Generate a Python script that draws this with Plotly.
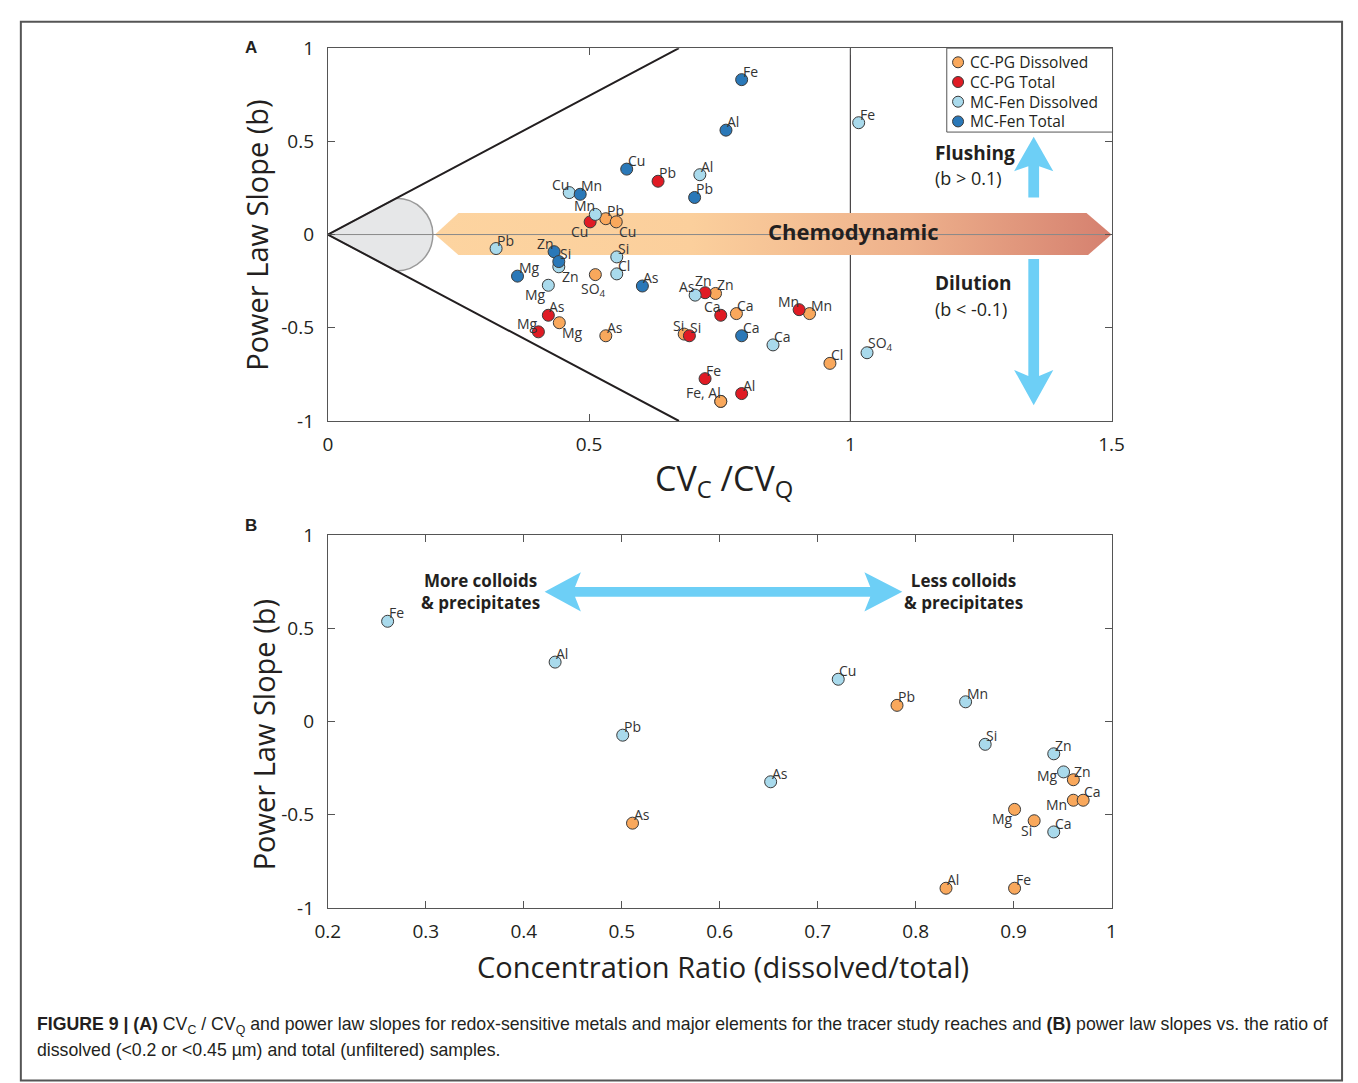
import plotly.graph_objects as go

# ---------------- DATA ----------------
# Panel A: CVc/CVq (x) vs power-law slope b (y)
mcfen_tot_el = ["Fe", "Al", "Cu", "Pb", "Mn", "Zn", "Si", "Mg", "As", "Ca"]
mcfen_tot_cv = [0.792, 0.762, 0.572, 0.702, 0.483, 0.433, 0.442, 0.363, 0.602, 0.792]
mcfen_tot_b = [0.831, 0.560, 0.351, 0.199, 0.216, -0.092, -0.145, -0.223, -0.276, -0.543]

mcfen_dis_el = ["Fe", "Al", "Cu", "Mn", "Pb", "Si", "Zn", "Cl", "Mg", "As", "Ca", "SO<sub>4</sub>"]
mcfen_dis_cv = [1.016, 0.712, 0.462, 0.512, 0.322, 0.553, 0.442, 0.553, 0.422, 0.703, 0.852, 1.032]
mcfen_dis_b = [0.600, 0.321, 0.225, 0.108, -0.075, -0.120, -0.173, -0.211, -0.272, -0.325, -0.592, -0.634]

ccpg_tot_el = ["Pb", "Cu", "Zn", "Mn", "Ca", "As", "Mg", "Si", "Fe", "Al"]
ccpg_tot_cv = [0.632, 0.502, 0.722, 0.902, 0.752, 0.422, 0.403, 0.692, 0.722, 0.792]
ccpg_tot_b = [0.286, 0.068, -0.312, -0.403, -0.433, -0.433, -0.522, -0.543, -0.773, -0.853]

ccpg_dis_el = ["Pb", "Cu", "SO<sub>4</sub>", "Zn", "Ca", "Mn", "Mg", "Si", "As", "Cl", "Fe, Al", ""]
ccpg_dis_cv = [0.532, 0.552, 0.512, 0.742, 0.782, 0.922, 0.443, 0.682, 0.532, 0.961, 0.752, 0.752]
ccpg_dis_b = [0.085, 0.068, -0.215, -0.316, -0.424, -0.424, -0.473, -0.534, -0.543, -0.691, -0.895, -0.895]

# Panel B: concentration ratio (dissolved/total) vs b
b_mcfen_el = ["Fe", "Al", "Pb", "As", "Cu", "Mn", "Si", "Zn", "Mg", "Ca"]
b_mcfen_ratio = [0.261, 0.432, 0.501, 0.652, 0.721, 0.851, 0.871, 0.941, 0.951, 0.941]
b_mcfen_b = [0.538, 0.319, -0.073, -0.323, 0.227, 0.106, -0.122, -0.173, -0.270, -0.592]

b_ccpg_el = ["As", "Pb", "Al", "Mg", "Fe", "Si", "Zn", "Mn", "Ca", "Cu"]
b_ccpg_ratio = [0.511, 0.781, 0.831, 0.901, 0.901, 0.921, 0.961, 0.961, 0.971, 1.001]
b_ccpg_b = [-0.545, 0.087, -0.894, -0.471, -0.894, -0.532, -0.312, -0.422, -0.422, 0.066]

series_names = ["CC-PG Dissolved", "CC-PG Total", "MC-Fen Dissolved", "MC-Fen Total"]

ticks_a_x = [0, 0.5, 1, 1.5]
ticks_b_x = [0.2, 0.3, 0.4, 0.5, 0.6, 0.7, 0.8, 0.9, 1]
ticks_y = [-1, -0.5, 0, 0.5, 1]

# ---------------- STYLE ----------------
pos_mcfen_tot = ["tr", "tr", "tr", "tr", "tr", "tl", "tr", "tr", "tr", "tr"]
pos_mcfen_dis = ["tr", "tr", "tl", "tl", "tr", "tr", "br", "tr", "bl", "tl", "tr", "tr"]
pos_ccpg_tot = ["tr", "bl", "tc", "tl", "tl", "tr", "tl", "tr", "tr", "tr"]
pos_ccpg_dis = ["tr", "br", "bc", "tr", "tr", "tr", "br", "tl", "tr", "tr", "tl", "tl"]
pos_b_mcfen = ["tr"] * 8 + ["ml", "tr"]
pos_b_ccpg = ["tr", "tr", "tr", "bl", "tr", "bl", "tr", "ml", "tr", "tl"]

C_ORANGE = "#f9a85c"
C_RED = "#e01b24"
C_LBLUE = "#a9daec"
C_DBLUE = "#2a78b8"
series_colors = [C_ORANGE, C_RED, C_LBLUE, C_DBLUE]
TXT = "#231f20"
FONT = "Open Sans"
W, H = 1358, 1083

fig = go.Figure()

# ---- Panel A decorations ----
fig.add_trace(go.Scatter(
    x=[0.205, 0.25, 1.452, 1.5, 1.455, 0.25, 0.205],
    y=[0, 0.115, 0.115, 0, -0.11, -0.11, 0],
    mode="lines", line=dict(width=0), fill="toself",
    fillgradient=dict(type="horizontal",
                      colorscale=[[0, "#fdd4a0"], [0.38, "#fbcf9c"], [0.7, "#eeb18c"], [1, "#d5806f"]]),
    hoverinfo="skip", showlegend=False, xaxis="x", yaxis="y"))
fig.add_trace(go.Scatter(x=[0, 1.5], y=[0, 0], mode="lines", line=dict(color="#8a8a8a", width=1),
                         hoverinfo="skip", showlegend=False, xaxis="x", yaxis="y"))
fig.add_trace(go.Scatter(x=[0.672, 0, 0.672], y=[1, 0, -1], mode="lines",
                         line=dict(color=TXT, width=2), hoverinfo="skip", showlegend=False,
                         xaxis="x", yaxis="y"))

ann = []

LABEL_STYLE = {
    "tr": dict(xanchor="left", yanchor="bottom", xshift=0, yshift=-2),
    "tl": dict(xanchor="right", yanchor="bottom", xshift=1, yshift=-2),
    "tc": dict(xanchor="center", yanchor="bottom", xshift=-2, yshift=2),
    "br": dict(xanchor="left", yanchor="top", xshift=2, yshift=1),
    "bl": dict(xanchor="right", yanchor="top", xshift=-1, yshift=1),
    "bc": dict(xanchor="center", yanchor="top", xshift=-2, yshift=-3),
    "ml": dict(xanchor="right", yanchor="middle", xshift=-5, yshift=-4),
}


def pts(x, y, el, pos, color, name, xa, ya):
    fig.add_trace(go.Scatter(
        x=x, y=y, mode="markers", name=name,
        marker=dict(size=12, color=color, line=dict(color="#3a3a3a", width=1)),
        cliponaxis=False, showlegend=False, xaxis=xa, yaxis=ya, hoverinfo="skip"))
    for xi, yi, t, p in zip(x, y, el, pos):
        if not t:
            continue
        ann.append(dict(text=t, x=xi, y=yi, xref=xa, yref=ya, showarrow=False, borderpad=0,
                        font=dict(family=FONT, size=14, color="#333333"), **LABEL_STYLE[p]))


pts(ccpg_dis_cv, ccpg_dis_b, ccpg_dis_el, pos_ccpg_dis, C_ORANGE, series_names[0], "x", "y")
pts(ccpg_tot_cv, ccpg_tot_b, ccpg_tot_el, pos_ccpg_tot, C_RED, series_names[1], "x", "y")
pts(mcfen_dis_cv, mcfen_dis_b, mcfen_dis_el, pos_mcfen_dis, C_LBLUE, series_names[2], "x", "y")
pts(mcfen_tot_cv, mcfen_tot_b, mcfen_tot_el, pos_mcfen_tot, C_DBLUE, series_names[3], "x", "y")

pts(b_mcfen_ratio, b_mcfen_b, b_mcfen_el, pos_b_mcfen, C_LBLUE, series_names[2], "x2", "y2")
pts(b_ccpg_ratio, b_ccpg_b, b_ccpg_el, pos_b_ccpg, C_ORANGE, series_names[0], "x2", "y2")


def px(xp):
    return xp / W


def py(yp):
    return 1 - yp / H


# ---- shapes ----
ARROW = "#6dcff6"
tx = 0.672
shapes = [
    dict(type="path", xref="x", yref="y", layer="below",
         path=f"M 0,0 L 0.131,{0.131 / tx:.4f} C 0.1697,0.195 0.201,0.1077 0.201,0 "
              f"C 0.201,-0.1077 0.1697,-0.195 0.131,{-0.131 / tx:.4f} Z",
         fillcolor="#e6e7e8", line=dict(color="#9a9a9a", width=1.5)),
    dict(type="line", xref="x", yref="y", x0=1, x1=1, y0=-1, y1=1, layer="below",
         line=dict(color=TXT, width=1)),
    dict(type="path", xref="x", yref="y", fillcolor=ARROW, line=dict(width=0),
         path="M 1.3407,0.199 L 1.3407,0.366 L 1.3135,0.340 L 1.351,0.524 L 1.3885,0.340 "
              "L 1.3613,0.366 L 1.3613,0.199 Z"),
    dict(type="path", xref="x", yref="y", fillcolor=ARROW, line=dict(width=0),
         path="M 1.3407,-0.131 L 1.3407,-0.759 L 1.3135,-0.726 L 1.351,-0.916 L 1.3885,-0.726 "
              "L 1.3613,-0.759 L 1.3613,-0.131 Z"),
    dict(type="path", xref="x2", yref="y2", fillcolor=ARROW, line=dict(width=0),
         path="M 0.4213,0.696 L 0.4583,0.801 L 0.4523,0.722 L 0.7537,0.722 L 0.7477,0.801 "
              "L 0.7864,0.696 L 0.7477,0.591 L 0.7537,0.670 L 0.4523,0.670 L 0.4583,0.591 Z"),
    dict(type="rect", xref="paper", yref="paper", x0=8 / W, x1=1355 / W, y0=-0.01, y1=1 - 9 / H,
         line=dict(color="#555555", width=2)),
    # legend box
    dict(type="rect", xref="paper", yref="paper", x0=px(952), x1=px(1121), y0=py(122), y1=py(36),
         fillcolor="white", line=dict(color="#555555", width=1)),
]

# legend entries (swatch + label)
for i, (nm, col) in enumerate(zip(series_names, series_colors)):
    yc = 50.5 + i * 20.2
    shapes.append(dict(type="circle", xref="paper", yref="paper", xsizemode="pixel",
                       ysizemode="pixel", xanchor=px(963.5), yanchor=py(yc),
                       x0=-5.5, x1=5.5, y0=-5.5, y1=5.5, fillcolor=col,
                       line=dict(color="#3a3a3a", width=1)))
    ann.append(dict(text=nm, x=px(975), y=py(yc), xref="paper", yref="paper", showarrow=False,
                    xanchor="left", yanchor="middle", borderpad=0,
                    font=dict(family=FONT, size=15.5, color=TXT)))


def a(text, x, y, size, bold=False, xanchor="center", yanchor="middle", angle=0, family=FONT,
      xref="paper", yref="paper", align="center"):
    if bold:
        text = f"<b>{text}</b>"
    ann.append(dict(text=text, x=x, y=y, xref=xref, yref=yref, showarrow=False, xanchor=xanchor,
                    yanchor=yanchor, textangle=angle, align=align,
                    font=dict(family=family, size=size, color=TXT)))


a("Chemodynamic", 1.007, 0.02, 22, bold=True, xref="x", yref="y")
a("Flushing", 1.159, 0.44, 19, bold=True, xanchor="left", xref="x", yref="y")
a("(b > 0.1)", 1.159, 0.304, 18, xanchor="left", xref="x", yref="y")
a("Dilution", 1.159, -0.262, 19, bold=True, xanchor="left", xref="x", yref="y")
a("(b < -0.1)", 1.159, -0.398, 18, xanchor="left", xref="x", yref="y")
a("More colloids<br>& precipitates", 0.356, 0.70, 17, bold=True, xref="x2", yref="y2")
a("Less colloids<br>& precipitates", 0.849, 0.70, 17, bold=True, xref="x2", yref="y2")

a("Power Law Slope (b)", px(248), py(228), 29, angle=-90)
a("Power Law Slope (b)", px(255), py(740), 29, angle=-90)
a("CV<sub>C</sub> /CV<sub>Q</sub>", px(725), py(478), 34)
a("Concentration Ratio (dissolved/total)", px(724), py(977), 29)
a("A", px(243), py(35), 17, bold=True, family="Liberation Sans")
a("B", px(243), py(525), 17, bold=True, family="Liberation Sans")

cap_font = "Liberation Sans"
a("<b>FIGURE 9 | (A)</b> CV<sub>C</sub> / CV<sub>Q</sub> and power law slopes for redox-sensitive metals "
  "and major elements for the tracer study reaches and <b>(B)</b> power law slopes vs. the ratio of",
  px(22), py(1037), 17.7, xanchor="left", family=cap_font)
a("dissolved (&lt;0.2 or &lt;0.45 µm) and total (unfiltered) samples.",
  px(22), py(1062), 17.7, xanchor="left", family=cap_font)

axis_common = dict(showline=True, linecolor="#555555", linewidth=1, mirror="ticks", ticks="inside",
                   ticklen=7, tickcolor="#555555", showgrid=False, zeroline=False,
                   tickfont=dict(family=FONT, size=19, color=TXT))
xstand = dict(ticklabelstandoff=6)
ystand = dict(ticklabelstandoff=9)

fig.update_layout(
    width=W, height=H, margin=dict(l=0, r=0, t=0, b=0),
    paper_bgcolor="white", plot_bgcolor="white", showlegend=False,
    xaxis=dict(domain=[321 / W, 1120 / W], range=[0, 1.5], tickvals=ticks_a_x,
               ticktext=[str(v) for v in ticks_a_x], anchor="y", **axis_common, **xstand),
    yaxis=dict(domain=[py(418), py(36)], range=[-1, 1], tickvals=ticks_y,
               ticktext=[str(v) for v in ticks_y], anchor="x", **axis_common, **ystand),
    xaxis2=dict(domain=[321 / W, 1120 / W], range=[0.2, 1], tickvals=ticks_b_x,
                ticktext=[str(v) for v in ticks_b_x], anchor="y2", **axis_common, **xstand),
    yaxis2=dict(domain=[py(917), py(535)], range=[-1, 1], tickvals=ticks_y,
                ticktext=[str(v) for v in ticks_y], anchor="x2", **axis_common, **ystand),
    shapes=shapes, annotations=ann,
)

fig.write_html("out.html",
               post_script="document.body.style.margin='0px';document.body.style.overflow='hidden';")
